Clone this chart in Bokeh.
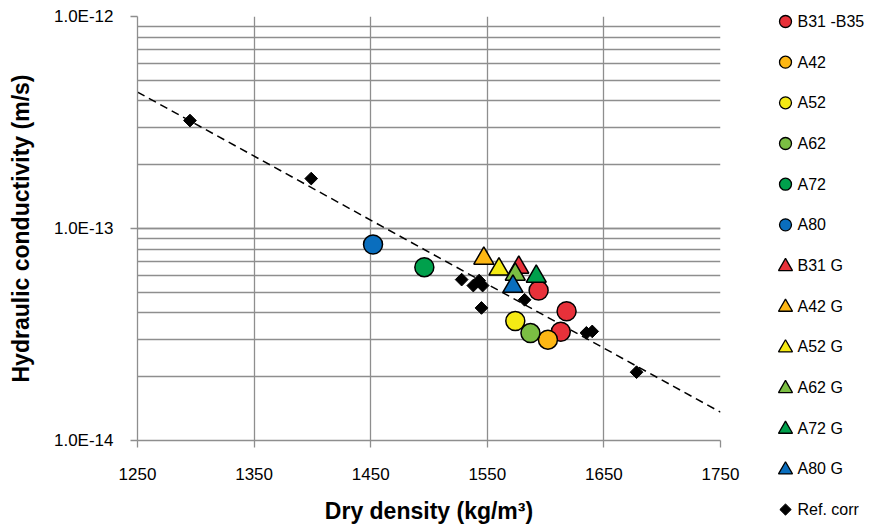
import math
from bokeh.plotting import figure
from bokeh.layouts import row
from bokeh.models import Range1d, FixedTicker, LogTicker, CustomJSTickFormatter
from bokeh.core.properties import value
from bokeh.embed import file_html
from bokeh.resources import INLINE

# ---------------- data ----------------
x_ticks = [1250, 1350, 1450, 1550, 1650, 1750]

b31_x = [1594, 1618, 1613]
b31_k = [5.10e-14, 4.07e-14, 3.26e-14]
a42_x = [1602]
a42_k = [2.99e-14]
a52_x = [1574]
a52_k = [3.66e-14]
a62_x = [1587]
a62_k = [3.21e-14]
a72_x = [1496]
a72_k = [6.57e-14]
a80_x = [1452]
a80_k = [8.41e-14]

b31g_x = [1577]
b31g_k = [6.55e-14]
a42g_x = [1547]
a42g_k = [7.23e-14]
a52g_x = [1560]
a52g_k = [6.43e-14]
a62g_x = [1574]
a62g_k = [6.07e-14]
a72g_x = [1592]
a72g_k = [5.94e-14]
a80g_x = [1572]
a80g_k = [5.33e-14]

ref_x = [1295, 1399, 1528, 1538, 1543, 1546, 1545, 1582, 1635, 1640, 1678]
ref_k = [3.23e-13, 1.72e-13, 5.74e-14, 5.38e-14, 5.68e-14, 5.38e-14, 4.22e-14,
         4.61e-14, 3.22e-14, 3.27e-14, 2.10e-14]

fit_x = [1250, 1750]
fit_k = [4.4e-13, 1.36e-14]

legend_labels = ["B31 -B35", "A42", "A52", "A62", "A72", "A80",
                 "B31 G", "A42 G", "A52 G", "A62 G", "A72 G", "A80 G", "Ref. corr"]
x_title = "Dry density (kg/m³)"
y_title = "Hydraulic conductivity (m/s)"

# ---------------- styles ----------------
RED, ORANGE, YELLOW = "#E8313A", "#FDB714", "#F5EA14"
LGREEN, GREEN, BLUE = "#7BBE43", "#00A04C", "#0A6EBE"
GRID = "#8E8E8E"
FONT = "Liberation Sans"
H = 529


def bare(w):
    f = figure(width=w, height=H, x_range=Range1d(0, w), y_range=Range1d(H, 0),
               output_backend="svg", toolbar_location=None,
               min_border=0, min_border_left=0, min_border_right=0,
               min_border_top=0, min_border_bottom=0)
    f.axis.visible = False
    f.grid.visible = False
    f.outline_line_color = None
    f.frame_align = False
    return f


# ---------------- y title panel ----------------
yl = bare(40)
yl.text([20], [228], text=[y_title], angle=math.pi / 2, text_font=value(FONT),
        text_font_size="23px", text_font_style="bold", text_align="center",
        text_baseline="middle", text_color="black")

# ---------------- main plot ----------------
p = figure(width=718, height=H, y_axis_type="log",
           x_range=Range1d(1250, 1750), y_range=Range1d(1e-14, 1e-12),
           output_backend="svg", toolbar_location=None,
           min_border_left=97, min_border_right=38,
           min_border_top=16, min_border_bottom=89)
p.frame_align = False
p.outline_line_color = None
p.background_fill_color = "white"

p.xaxis.ticker = FixedTicker(ticks=x_ticks)
p.yaxis.ticker = LogTicker(num_minor_ticks=10)
p.yaxis.formatter = CustomJSTickFormatter(code="return tick.toExponential(1).toUpperCase();")
for ax in (p.xaxis, p.yaxis):
    ax.axis_line_color = GRID
    ax.axis_line_width = 1.3
    ax.major_tick_line_color = GRID
    ax.major_tick_line_width = 1.3
    ax.major_tick_out = 7
    ax.major_tick_in = 0
    ax.minor_tick_line_color = None
    ax.major_label_text_font = FONT
    ax.major_label_text_font_size = "17px"
    ax.major_label_text_color = "black"
    ax.axis_label_text_font = FONT
    ax.axis_label_text_font_size = "23px"
    ax.axis_label_text_font_style = "bold"
    ax.axis_label_text_color = "black"
p.xaxis.major_label_standoff = 20
p.yaxis.major_label_standoff = 17
p.xaxis.axis_label_standoff = 15
p.xaxis.axis_label = x_title

p.xgrid.grid_line_color = GRID
p.xgrid.grid_line_width = 1.3
p.ygrid.grid_line_color = GRID
p.ygrid.grid_line_width = 1.3
p.ygrid.minor_grid_line_color = GRID
p.ygrid.minor_grid_line_width = 1.3

p.line(fit_x, fit_k, line_color="black", line_width=1.5, line_dash="8 5")

circ = [(b31_x, b31_k, RED), (a42_x, a42_k, ORANGE), (a52_x, a52_k, YELLOW),
        (a62_x, a62_k, LGREEN), (a72_x, a72_k, GREEN), (a80_x, a80_k, BLUE)]
tri = [(b31g_x, b31g_k, RED), (a42g_x, a42g_k, ORANGE), (a52g_x, a52g_k, YELLOW),
       (a62g_x, a62g_k, LGREEN), (a72g_x, a72g_k, GREEN), (a80g_x, a80g_k, BLUE)]
for xs, ks, col in circ:
    p.scatter(xs, ks, marker="circle", size=19, fill_color=col,
              line_color="black", line_width=1.5)
for xs, ks, col in tri:
    p.scatter(xs, ks, marker="triangle", size=20, fill_color=col,
              line_color="black", line_width=1.5)
p.scatter(ref_x, ref_k, marker="square", angle=0.785398, size=9,
          fill_color="black", line_color="black", line_width=1)

# ---------------- legend panel ----------------
lg = bare(120)
colors = [RED, ORANGE, YELLOW, LGREEN, GREEN, BLUE]
n = len(legend_labels)
ys = [21 + i * 40.67 for i in range(n)]
lg.scatter([27] * 6, ys[0:6], marker="circle", size=12, fill_color=colors,
           line_color="black", line_width=1.3)
lg.scatter([27] * 6, [y + 1 for y in ys[6:12]], marker="triangle", size=14,
           fill_color=colors, line_color="black", line_width=1.3)
lg.scatter([27], [ys[12]], marker="square", angle=0.785398, size=8,
           fill_color="black", line_color="black", line_width=1)
lg.text([39] * n, ys, text=legend_labels, text_font=value(FONT),
        text_font_size="16px", text_baseline="middle", text_align="left",
        text_color="black")

layout = row(yl, p, lg, spacing=0)
open("out.html", "w").write(file_html(layout, INLINE))
